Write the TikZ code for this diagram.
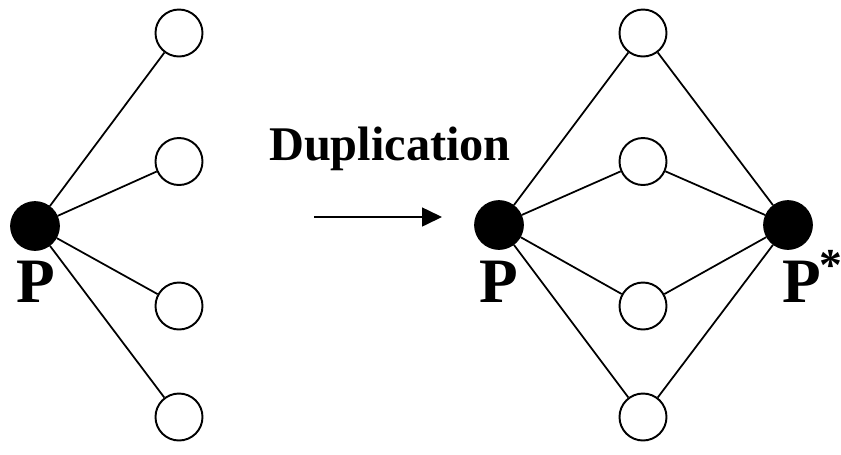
\documentclass[tikz,border=0pt]{standalone}
\usepackage{fontspec}
\setmainfont{Liberation Serif}
\usetikzlibrary{positioning,arrows.meta}

\begin{document}
\begin{tikzpicture}[
    hub/.style={circle, fill=black, draw=black, minimum size=0.98cm, inner sep=0pt},
    leaf/.style={circle, draw, fill=white, line width=1.1pt, minimum size=0.94cm, inner sep=0pt},
    label/.style={font=\fontsize{36}{36}\selectfont\bfseries, inner sep=0pt, anchor=base},
    edge/.style={line width=1pt},
    arrow/.style={line width=0.9pt, -{Triangle[length=4mm, width=3.8mm]}}
]
    \useasboundingbox (0,0) rectangle (16.82,-9.08);

    % Nodes (left)
    \node[hub] (p) at (0.70,-4.52) {};
    \node[leaf] (l1) at (3.58,-0.66) {};
    \node[leaf] (l2) at (3.58,-3.23) {};
    \node[leaf] (l3) at (3.58,-6.12) {};
    \node[leaf] (l4) at (3.58,-8.34) {};
    \node[label] (plab) at (0.72,-6.04) {P};

    % Nodes (right)
    \node[hub] (q) at (9.98,-4.50) {};
    \node[hub] (qstar) at (15.76,-4.50) {};
    \node[leaf] (r1) at (12.86,-0.66) {};
    \node[leaf] (r2) at (12.86,-3.23) {};
    \node[leaf] (r3) at (12.86,-6.12) {};
    \node[leaf] (r4) at (12.86,-8.34) {};
    \node[label] (qlab) at (9.97,-6.04) {P};
    \node[label, anchor=base west] (qstarlab) at (15.64,-6.04)
        {P\kern-1pt\raisebox{12pt}{\fontsize{26}{26}\selectfont *}};

    % Arrow and caption
    \coordinate (from) at (6.28,-4.34);
    \coordinate (to) at (8.84,-4.34);
    \draw[arrow] (from) -- (to);
    \node[font=\fontsize{27.5}{27.5}\selectfont\bfseries, anchor=base] (dup) at (7.80,-3.20) {Duplication};

    % Connections
    \draw[edge] (p) -- (l1);
    \draw[edge] (p) -- (l2);
    \draw[edge] (p) -- (l3);
    \draw[edge] (p) -- (l4);
    \draw[edge] (q) -- (r1);
    \draw[edge] (q) -- (r2);
    \draw[edge] (q) -- (r3);
    \draw[edge] (q) -- (r4);
    \draw[edge] (qstar) -- (r1);
    \draw[edge] (qstar) -- (r2);
    \draw[edge] (qstar) -- (r3);
    \draw[edge] (qstar) -- (r4);
\end{tikzpicture}
\end{document}
